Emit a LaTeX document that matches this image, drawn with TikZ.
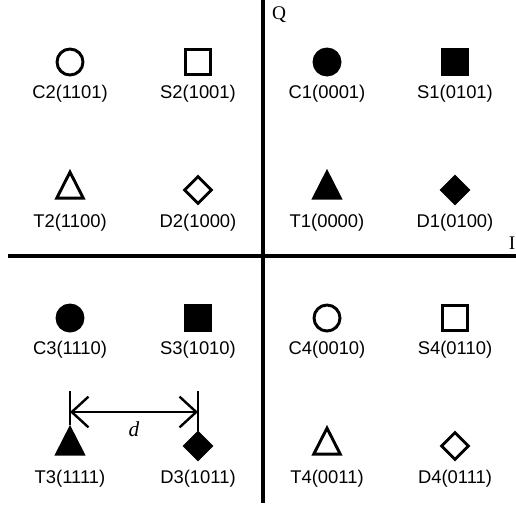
\documentclass[tikz,border=0pt]{standalone}
\usepackage{fontspec}
\setmainfont{Liberation Sans}
\newfontfamily\serifQ{Liberation Serif}
\usetikzlibrary{arrows.meta,shapes.geometric}

\tikzset{
  sym/.style={draw,line width=2.2pt,inner sep=0pt},
  circ/.style={sym,circle,minimum size=19.5pt},
  sqr/.style={sym,rectangle,minimum size=19pt},
  dia/.style={sym,diamond,minimum size=21pt},
  tri/.style={sym,isosceles triangle,isosceles triangle apex angle=54,
    shape border rotate=90,minimum height=19.5pt,minimum width=19.5pt},
  full/.style={fill=black},
  lbl/.style={font=\fontsize{13.8}{15}\selectfont,inner sep=0pt},
  axis/.style={line width=2.3pt}
}

\begin{document}
\begin{tikzpicture}[x=0.75pt,y=-0.75pt,line cap=butt]
\useasboundingbox (0,0) rectangle (516,511);
% axes
\coordinate (qtop) at (263,0);
\coordinate (qbot) at (263,503);
\coordinate (ileft) at (8,256);
\coordinate (iright) at (516,256);
\draw[axis] (qtop) -- (qbot);
\draw[axis] (ileft) -- (iright);
\node[font=\serifQ\fontsize{14.5}{16}\selectfont,inner sep=0pt] (Q) at (279,15) {Q};
\node[font=\serifQ\fontsize{14.5}{16}\selectfont,inner sep=0pt] (I) at (512,243) {I};
% quadrant 1
\node[circ,full] (C1) at (327,62) {};
\node[lbl] (C1l) at (327,94) {C1(0001)};
\node[sqr,full] (S1) at (455,62) {};
\node[lbl] (S1l) at (455,94) {S1(0101)};
\node[tri,full] (T1) at (327,190) {};
\node[lbl] (T1l) at (327,223) {T1(0000)};
\node[dia,full] (D1) at (455,190) {};
\node[lbl] (D1l) at (455,223) {D1(0100)};
% quadrant 2
\node[circ] (C2) at (70,62) {};
\node[lbl] (C2l) at (70,94) {C2(1101)};
\node[sqr] (S2) at (198,62) {};
\node[lbl] (S2l) at (198,94) {S2(1001)};
\node[tri] (T2) at (70,190) {};
\node[lbl] (T2l) at (70,223) {T2(1100)};
\node[dia] (D2) at (198,190) {};
\node[lbl] (D2l) at (198,223) {D2(1000)};
% quadrant 3
\node[circ,full] (C3) at (70,318) {};
\node[lbl] (C3l) at (70,350) {C3(1110)};
\node[sqr,full] (S3) at (198,318) {};
\node[lbl] (S3l) at (198,350) {S3(1010)};
\node[tri,full] (T3) at (70,446) {};
\node[lbl] (T3l) at (70,479) {T3(1111)};
\node[dia,full] (D3) at (198,446) {};
\node[lbl] (D3l) at (198,479) {D3(1011)};
% quadrant 4
\node[circ] (C4) at (327,318) {};
\node[lbl] (C4l) at (327,350) {C4(0010)};
\node[sqr] (S4) at (455,318) {};
\node[lbl] (S4l) at (455,350) {S4(0110)};
\node[tri] (T4) at (327,446) {};
\node[lbl] (T4l) at (327,479) {T4(0011)};
\node[dia] (D4) at (455,446) {};
\node[lbl] (D4l) at (455,479) {D4(0111)};
% distance d
\coordinate (dtl) at (70,391);
\coordinate (dtr) at (198,391);
\coordinate (dl) at (70,412);
\coordinate (dr) at (198,412);
\draw[line width=2pt] (dtl) -- (T3.north);
\draw[line width=2pt] (dtr) -- (D3.north);
\draw[line width=1.8pt,{Straight Barb[length=12.5pt,width=23pt]}-{Straight Barb[length=12.5pt,width=23pt]}] (dl) -- (dr);
\node[font=\serifQ\itshape\fontsize{16}{18}\selectfont,inner sep=0pt] (d) at (134,429) {d};
\end{tikzpicture}
\end{document}
